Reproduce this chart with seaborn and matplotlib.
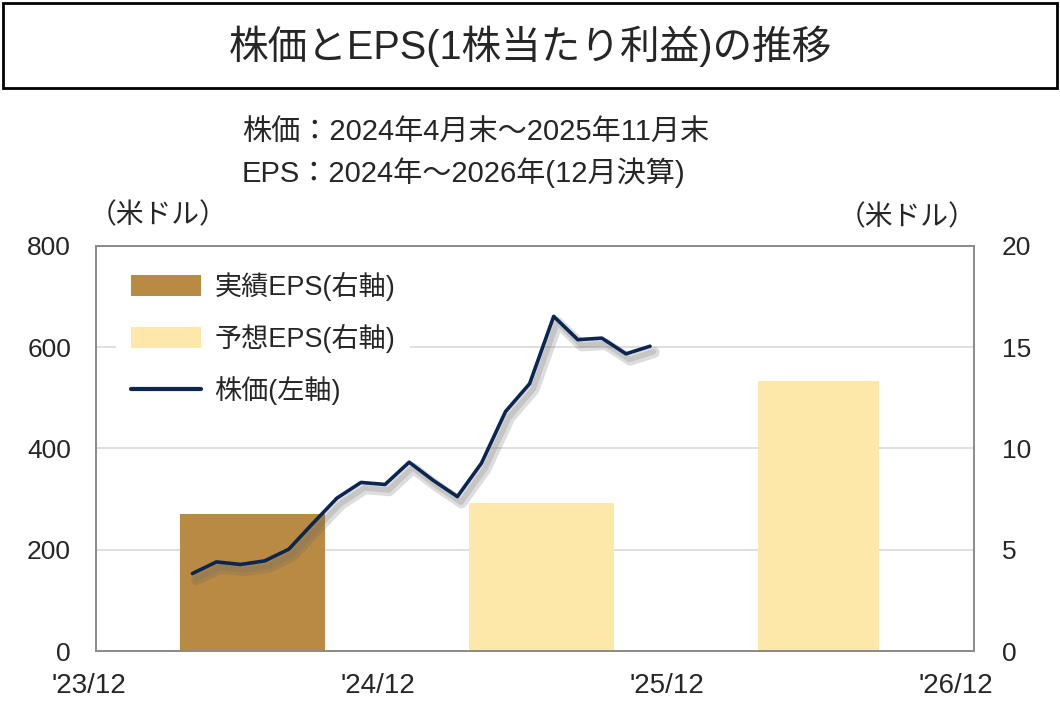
import matplotlib
matplotlib.use('Agg')
import matplotlib.pyplot as plt
import matplotlib.patheffects as pe
import matplotlib.transforms as mtransforms
from matplotlib.patches import Patch, Rectangle
from matplotlib.lines import Line2D
import pandas as pd
import seaborn as sns

# 株価 (月末, 米ドル)
price_months = ['2024-04', '2024-05', '2024-06', '2024-07', '2024-08', '2024-09', '2024-10',
                '2024-11', '2024-12', '2025-01', '2025-02', '2025-03', '2025-04', '2025-05',
                '2025-06', '2025-07', '2025-08', '2025-09', '2025-10', '2025-11']
price_values = [153, 176, 171, 178, 201, 252, 302, 333, 329, 373, 337, 305, 371, 473,
                528, 661, 615, 618, 587, 602]

# EPS (12月決算, 米ドル)
eps_years = [2024, 2025, 2026]
eps_values = [6.77, 7.33, 13.35]
eps_kind = ['実績', '予想', '予想']

xtick_labels = ["'23/12", "'24/12", "'25/12", "'26/12"]

sns.set_theme(style='white')
# 英数字は Liberation Sans, 日本語は Noto Sans CJK JP
plt.rcParams['font.family'] = ['Liberation Sans', 'Noto Sans CJK JP', 'DejaVu Sans']

df = pd.DataFrame({'month': pd.to_datetime(price_months), 'price': price_values})
# 2023年12月末からの月数
df['x'] = (df['month'].dt.year - 2023) * 12 + df['month'].dt.month - 12

eps = pd.DataFrame({'year': eps_years, 'eps': eps_values, 'kind': eps_kind})
eps['left'] = (eps['year'] - 2024) * 12 + 3.5
eps['width'] = [6, 6, 5]

c_actual = '#B98A43'
c_fcst = '#FDE8AA'
c_line = '#0C2652'
c_grid = '#D9D9D9'
c_spine = '#8C8C8C'

fig = plt.figure(figsize=(10.6, 7.14), dpi=100)
fig.patch.set_facecolor('white')

# タイトル枠
fig.patches.append(Rectangle((0.003, 0.877), 0.994, 0.119, transform=fig.transFigure,
                             facecolor='white', edgecolor='black', linewidth=2))
fig.text(0.5, 0.935, '株価とEPS(1株当たり利益)の推移', ha='center', va='center', fontsize=28.5)
fig.text(0.228, 0.814, '株価：2024年4月末～2025年11月末', ha='left', va='center', fontsize=21)
fig.text(0.228, 0.758, 'EPS：2024年～2026年(12月決算)', ha='left', va='center', fontsize=21)
fig.text(0.084, 0.698, '（米ドル）', ha='left', va='center', fontsize=20)
fig.text(0.921, 0.694, '（米ドル）', ha='right', va='center', fontsize=20)

ax = fig.add_axes([0.0906, 0.0882, 0.8283, 0.5673])
ax2 = ax.twinx()

# 棒 (右軸)
colors = [c_actual if k == '実績' else c_fcst for k in eps['kind']]
ax2.bar(eps['left'], eps['eps'], width=eps['width'], align='edge', color=colors,
        edgecolor='none', zorder=2)
ax2.set_ylim(0, 20)
ax2.set_yticks([0, 5, 10, 15, 20])
ax2.yaxis.grid(True, color=c_grid, linewidth=1.2)
ax2.set_axisbelow(True)

# 折れ線 (左軸)
ax.set_zorder(ax2.get_zorder() + 1)
ax.patch.set_visible(False)
sns.lineplot(data=df, x='x', y='price', ax=ax, color=c_line, linewidth=2.6,
             path_effects=[pe.SimpleLineShadow(offset=(3, -4.5), shadow_color='#666666',
                                               alpha=0.22, linewidth=8),
                           pe.SimpleLineShadow(offset=(2.5, -4), shadow_color='#666666',
                                               alpha=0.2, linewidth=4),
                           pe.Normal()])
ax.set_ylim(0, 800)
ax.set_yticks([0, 200, 400, 600, 800])
ax.set_xlim(0, 36.45)
ax.set_xticks([0, 12, 24, 36])
ax.set_xticklabels(xtick_labels)
ax.set_xlabel('')
ax.set_ylabel('')
ax.grid(False)

for a in (ax, ax2):
    for s in a.spines.values():
        s.set_color(c_spine)
        s.set_linewidth(1.3)
ax.tick_params(axis='x', direction='in', length=6, width=1, color=c_spine,
               labelsize=20, pad=16)
ax.tick_params(axis='y', length=0, labelsize=19, pad=18)
ax2.tick_params(axis='y', length=0, labelsize=19, pad=20)

# 目盛ラベルを少し左へ
shift = mtransforms.ScaledTranslation(-7 / 100, 0, fig.dpi_scale_trans)
for lab in ax.get_xticklabels():
    lab.set_transform(lab.get_transform() + shift)

handles = [Patch(facecolor=c_actual, edgecolor='none'),
           Patch(facecolor=c_fcst, edgecolor='none'),
           Line2D([0], [0], color=c_line, linewidth=3)]
labels = ['実績EPS(右軸)', '予想EPS(右軸)', '株価(左軸)']
leg = ax.legend(handles, labels, loc='upper left', bbox_to_anchor=(0.01, 1.0),
                fontsize=19.5, frameon=True, facecolor='white', edgecolor='none',
                framealpha=1, fancybox=False, handlelength=2.6, handleheight=0.85,
                handletextpad=0.5, labelspacing=0.85, borderpad=0.55,
                borderaxespad=0.4)
leg.set_zorder(10)

fig.savefig('out.png', dpi=100, facecolor='white')
